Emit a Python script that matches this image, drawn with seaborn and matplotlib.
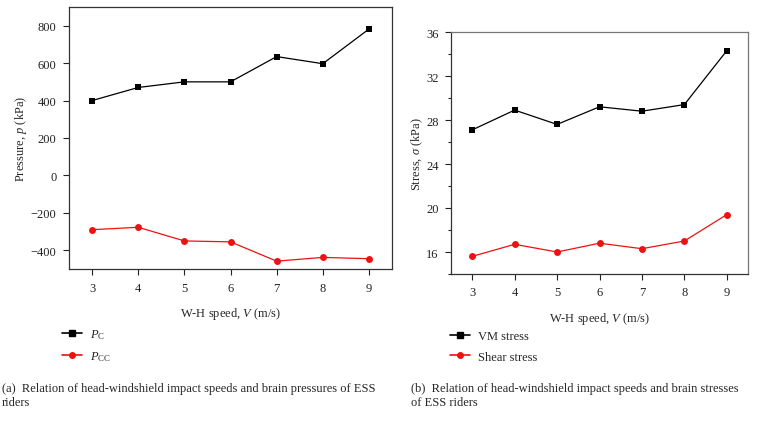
import matplotlib
matplotlib.use("Agg")
import matplotlib.pyplot as plt
import seaborn as sns
import pandas as pd
from matplotlib.ticker import MultipleLocator
from matplotlib.lines import Line2D

speeds = [3, 4, 5, 6, 7, 8, 9]
p_c = [400, 470, 500, 500, 635, 597, 782]
p_cc = [-290, -277, -350, -355, -458, -438, -445]
vm_stress = [27.1, 28.9, 27.6, 29.2, 28.8, 29.4, 34.3]
shear_stress = [15.6, 16.7, 16.0, 16.8, 16.3, 17.0, 19.4]

sns.set_theme(style="ticks")
plt.rcParams['font.family'] = ['Liberation Serif', 'DejaVu Serif']
plt.rcParams['mathtext.fontset'] = 'custom'
plt.rcParams['mathtext.rm'] = 'Liberation Serif'
plt.rcParams['mathtext.it'] = 'Liberation Serif:italic'
plt.rcParams['mathtext.bf'] = 'Liberation Serif:bold'
plt.rcParams['font.size'] = 8.5

W, H = 757, 427
fig = plt.figure(figsize=(W / 100, H / 100), dpi=100)

def rect(x0, y0, x1, y1):
    return [x0 / W, 1 - y1 / H, (x1 - x0) / W, (y1 - y0) / H]

ax1 = fig.add_axes(rect(69, 8, 392, 270))
ax2 = fig.add_axes(rect(451, 33, 748, 275))

df1 = pd.DataFrame({"speed": speeds * 2, "value": p_c + p_cc,
                    "series": ["PC"] * 7 + ["PCC"] * 7})
df2 = pd.DataFrame({"speed": speeds * 2, "value": vm_stress + shear_stress,
                    "series": ["VM"] * 7 + ["Shear"] * 7})

pal1 = {"PC": "black", "PCC": "#ee1111"}
pal2 = {"VM": "black", "Shear": "#ee1111"}
mk1 = {"PC": "s", "PCC": "o"}
mk2 = {"VM": "s", "Shear": "o"}

sns.lineplot(data=df1, x="speed", y="value", hue="series", style="series",
             palette=pal1, markers=mk1, dashes=False, markersize=5,
             markeredgewidth=0, linewidth=0.9, ax=ax1, legend=False)
sns.lineplot(data=df2, x="speed", y="value", hue="series", style="series",
             palette=pal2, markers=mk2, dashes=False, markersize=5,
             markeredgewidth=0, linewidth=0.9, ax=ax2, legend=False)

ax1.set_xlim(2.5, 9.5)
ax1.set_ylim(-500, 900)
ax1.set_yticks([-400, -200, 0, 200, 400, 600, 800])
ax1.set_yticklabels(["\u2212400", "\u2212200", "0", "200", "400", "600", "800"])
ax2.set_xlim(2.5, 9.5)
ax2.set_ylim(14, 36)
ax2.set_yticks([16, 20, 24, 28, 32, 36])
ax2.yaxis.set_minor_locator(MultipleLocator(2))

for ax in (ax1, ax2):
    ax.set_xticks(speeds)
    ax.set_xlabel("W-H speed, $V$ (m/s)", fontsize=9, labelpad=8)
    ax.tick_params(direction="out", length=4, width=0.8, colors="#222222",
                   labelsize=9, pad=5)
    ax.tick_params(which="minor", direction="out", length=2.5, width=0.8,
                   colors="#222222")
    for s in ax.spines.values():
        s.set_linewidth(0.9)
        s.set_color("#333333")
        s.set_visible(True)

ax2.spines["top"].set_color("#777777")
ax2.spines["right"].set_color("#777777")

ax1.set_ylabel("Pressure, $p$ (kPa)", fontsize=9, labelpad=1)
ax2.set_ylabel("Stress, $\\sigma$ (kPa)", fontsize=9, labelpad=1)

h1 = [Line2D([], [], color="black", marker="s", markersize=4, lw=1.2),
      Line2D([], [], color="#ee1111", marker="o", markersize=4, lw=1.2)]
h2 = [Line2D([], [], color="black", marker="s", markersize=4, lw=1.2),
      Line2D([], [], color="#ee1111", marker="o", markersize=4, lw=1.2)]
fig.legend(h1, ["$P_{\\mathrm{C}}$", "$P_{\\mathrm{CC}}$"],
           loc="upper left", bbox_to_anchor=(62 / W, 1 - 328 / H),
           frameon=False, fontsize=9, handlelength=1.6, handletextpad=0.6,
           labelspacing=0.7, borderaxespad=0, borderpad=0)
fig.legend(h2, ["VM stress", "Shear stress"],
           loc="upper left", bbox_to_anchor=(450 / W, 1 - 331 / H),
           frameon=False, fontsize=9, handlelength=1.6, handletextpad=0.6,
           labelspacing=0.7, borderaxespad=0, borderpad=0)

fig.text(2 / W, 1 - 383 / H,
         "(a)  Relation of head-windshield impact speeds and brain pressures of ESS\nriders",
         ha="left", va="top", fontsize=9, linespacing=1.25)
fig.text(411 / W, 1 - 383 / H,
         "(b)  Relation of head-windshield impact speeds and brain stresses\nof ESS riders",
         ha="left", va="top", fontsize=9, linespacing=1.25)

fig.savefig("out.png", dpi=100)
